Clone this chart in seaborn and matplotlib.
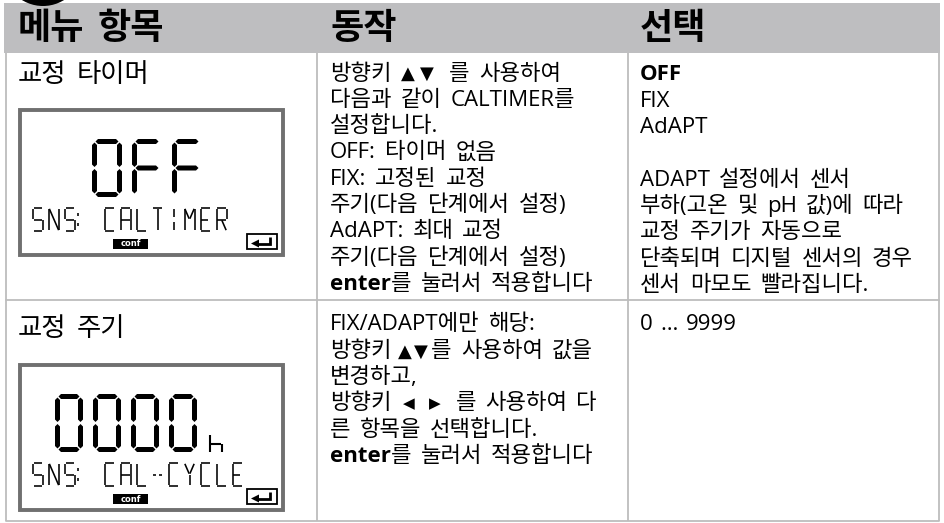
import re
import matplotlib
matplotlib.use("Agg")
import matplotlib.pyplot as plt
import seaborn as sns
from matplotlib.patches import Rectangle, Polygon, Circle

# ---------------- content ----------------
headers = ["메뉴 항목", "동작", "선택"]
menu_items = ["교정 타이머", "교정 주기"]
lcd_main = ["OFF", "0000"]
lcd_unit = ["", "h"]
lcd_sub = ["SNS: CALTIMER", "SNS: CAL-CYCLE"]
actions_row1 = [
    "방향키{9}▲{6}▼{15}를 사용하여",
    "다음과 같이 CALTIMER를",
    "설정합니다.",
    "OFF: 타이머 없음",
    "FIX: 고정된 교정",
    "주기(다음 단계에서 설정)",
    "AdAPT: 최대 교정",
    "주기(다음 단계에서 설정)",
    "**enter**를 눌러서 적용합니다",
]
actions_row2 = [
    "FIX/ADAPT에만 해당:",
    "방향키{6}▲{3}▼{3}를 사용하여 값을",
    "변경하고,",
    "방향키{11}◀{15}▶{15}를 사용하여 다",
    "른 항목을 선택합니다.",
    "**enter**를 눌러서 적용합니다",
]
choices_row1 = [
    "**OFF**",
    "FIX",
    "AdAPT",
    "",
    "ADAPT 설정에서 센서",
    "부하(고온 및 pH 값)에 따라",
    "교정 주기가 자동으로",
    "단축되며 디지털 센서의 경우",
    "센서 마모도 빨라집니다.",
]
choices_row2 = ["0 … 9999"]

# ---------------- style ----------------
sns.set_theme(style="white")
FAM = ["Open Sans", "Noto Sans CJK KR", "DejaVu Sans"]
plt.rcParams["font.family"] = FAM

W, H = 944, 523
fig = plt.figure(figsize=(W / 100, H / 100), dpi=100)
ax = fig.add_axes([0, 0, 1, 1])
ax.set_xlim(0, W)
ax.set_ylim(H, 0)
ax.axis("off")
renderer = fig.canvas.get_renderer()

GRID = "#BDBDBD"
HEAD_BG = "#BEBEC0"

# header band + decorative circle
ax.add_patch(Rectangle((4, 3), 936, 50, fc=HEAD_BG, ec="none", zorder=1))
ax.add_patch(Circle((43, -34), 40, fc="black", ec="none", zorder=2))

col_x = [6, 317, 628, 939]
row_y = [53, 300, 521]
for x in col_x:
    ax.plot([x, x], [row_y[0], row_y[-1]], color=GRID, lw=1.3, zorder=1,
            solid_capstyle="butt")
for y in row_y[1:]:
    ax.plot([col_x[0], col_x[-1]], [y, y], color=GRID, lw=1.3, zorder=1)

# ---------------- rich text lines ----------------
TRI_SIZE = {"▲": 13, "▼": 13, "◀": 11, "▶": 11}
SIZE = 16


def draw_line(x, y, line, size=SIZE, space=9.0, family=FAM, weight="normal"):
    tokens = re.split(r"(\*\*[^*]+\*\*|[▲▼◀▶]|\{\d+\})", line)
    cx = x
    for tok in tokens:
        if not tok:
            continue
        if tok in TRI_SIZE:
            t = ax.text(cx, y, tok, va="center", ha="left", color="black",
                        family=["DejaVu Sans"], fontsize=TRI_SIZE[tok], zorder=3)
            cx += t.get_window_extent(renderer=renderer).width
            continue
        m = re.fullmatch(r"\{(\d+)\}", tok)
        if m:
            cx += float(m.group(1))
            continue
        w = weight
        if tok.startswith("**"):
            tok = tok[2:-2]
            w = "bold"
        words = tok.split(" ")
        for j, word in enumerate(words):
            if j > 0:
                cx += space
            if word:
                t = ax.text(cx, y, word, va="center", ha="left", color="black",
                            family=family, fontsize=size, fontweight=w, zorder=3)
                cx += t.get_window_extent(renderer=renderer).width


text_x = [18, 330, 640]
for x, h in zip(text_x, headers):
    draw_line(x, 29, h, size=26, space=13, family=["Noto Sans CJK KR"], weight="bold")

LINE = 26.3
for i, line in enumerate(actions_row1):
    draw_line(text_x[1], 74 + i * LINE, line)
for i, line in enumerate(choices_row1):
    if line:
        draw_line(text_x[2], 75 + i * LINE, line)
for i, line in enumerate(actions_row2):
    draw_line(text_x[1], 325 + i * LINE, line)
for i, line in enumerate(choices_row2):
    draw_line(text_x[2], 325 + i * LINE, line, space=8)

for name, y in zip(menu_items, [76, 330]):
    draw_line(text_x[0], y, name, size=19, space=10)

# ---------------- LCD drawing ----------------
SEG7 = {"0": "abcdef", "O": "abcdef", "F": "aefg", "8": "abcdefg"}


def seg_digit(x0, y0, w, h, ch, t=5.0):
    g = 1.0
    hor = {"a": y0, "g": y0 + h / 2, "d": y0 + h}
    ver = {"f": (x0, y0, y0 + h / 2), "b": (x0 + w, y0, y0 + h / 2),
           "e": (x0, y0 + h / 2, y0 + h), "c": (x0 + w, y0 + h / 2, y0 + h)}
    for s in SEG7[ch]:
        if s in hor:
            cy = hor[s]
            xa, xb = x0 + g, x0 + w - g
            pts = [(xa, cy), (xa + t / 2, cy - t / 2), (xb - t / 2, cy - t / 2),
                   (xb, cy), (xb - t / 2, cy + t / 2), (xa + t / 2, cy + t / 2)]
        else:
            cx, ya, yb = ver[s]
            ya += g
            yb -= g
            pts = [(cx, ya), (cx + t / 2, ya + t / 2), (cx + t / 2, yb - t / 2),
                   (cx, yb), (cx - t / 2, yb - t / 2), (cx - t / 2, ya + t / 2)]
        ax.add_patch(Polygon(pts, closed=True, fc="black", ec="none", zorder=4))


SMALL = {
    "S": [[(1, 0), (0, 0), (0, 0.5), (1, 0.5), (1, 1), (0, 1)]],
    "N": [[(0, 1), (0, 0), (1, 1), (1, 0)]],
    "C": [[(1, 0), (0, 0), (0, 1), (1, 1)]],
    "A": [[(0, 1), (0, 0), (1, 0), (1, 1)], [(0, 0.5), (1, 0.5)]],
    "L": [[(0, 0), (0, 1), (1, 1)]],
    "T": [[(0, 0), (1, 0)], [(0.5, 0), (0.5, 1)]],
    "I": [[(0.5, 0.0), (0.5, 0.42)], [(0.5, 0.58), (0.5, 1)]],
    "M": [[(0, 1), (0, 0), (0.5, 0.5), (1, 0), (1, 1)]],
    "E": [[(1, 0), (0, 0), (0, 1), (1, 1)], [(0, 0.5), (0.85, 0.5)]],
    "R": [[(0, 1), (0, 0), (1, 0), (1, 0.5), (0, 0.5)], [(0.5, 0.5), (1, 1)]],
    "-": [[(0.0, 0.5), (0.45, 0.5)], [(0.55, 0.5), (1.0, 0.5)]],
    "Y": [[(0, 0), (0.5, 0.5)], [(1, 0), (0.5, 0.5)], [(0.5, 0.5), (0.5, 1)]],
    "h": [[(0, 0), (0, 1)], [(0, 0.5), (1, 0.5), (1, 1)]],
}


def small_char(x0, y0, w, h, ch, lw=1.15):
    if ch == ":":
        for yy in (0.3, 0.72):
            ax.plot([x0 + w * 0.5, x0 + w * 0.5], [y0 + h * yy - 1.5, y0 + h * yy + 1.5],
                    color="black", lw=lw, zorder=4, solid_capstyle="butt")
        return
    for poly in SMALL.get(ch, []):
        for (ax0, ay0), (ax1, ay1) in zip(poly[:-1], poly[1:]):
            X0, Y0 = x0 + ax0 * w, y0 + ay0 * h
            X1, Y1 = x0 + ax1 * w, y0 + ay1 * h
            dx, dy = X1 - X0, Y1 - Y0
            L = (dx * dx + dy * dy) ** 0.5
            sh = min(0.9, L * 0.2)
            ux, uy = dx / L, dy / L
            ax.plot([X0 + ux * sh, X1 - ux * sh], [Y0 + uy * sh, Y1 - uy * sh],
                    color="black", lw=lw, zorder=4, solid_capstyle="butt")


def lcd(dy, main, unit, sub):
    ax.add_patch(Rectangle((19.5, 109.5 + dy), 263, 145, fc="white",
                           ec="#707070", lw=2.8, zorder=3))
    n = len(main)
    x_start = 94.5 if n == 3 else 57.5
    pitch = 40.0 if n == 3 else 38.0
    for i, ch in enumerate(main):
        seg_digit(x_start + i * pitch, 141.5 + dy, 25 if n == 3 else 23, 53, ch)
    if unit:
        small_char(210, 434 - 255 + dy, 12, 19, unit, lw=1.5)
    x = 33.0
    for ch in sub:
        if ch == ":":
            x -= 8.5
        if ch != " ":
            small_char(x, 208 + dy, 10, 23, ch)
        x += 16.0
    # conf badge
    ax.add_patch(Rectangle((113, 239 + dy), 35, 10, fc="black", ec="none", zorder=4))
    ax.text(130.5, 244 + dy, "conf", color="white", fontsize=6, fontweight="bold",
            family=["DejaVu Sans"], ha="center", va="center", zorder=5)
    # enter key
    ax.add_patch(Rectangle((247, 234 + dy), 30, 15, fc="white", ec="black",
                           lw=1.3, zorder=4))
    ax.plot([270, 270, 258], [237 + dy, 243.5 + dy, 243.5 + dy], color="black",
            lw=2.0, zorder=5, solid_capstyle="butt", solid_joinstyle="miter")
    ax.add_patch(Polygon([(251, 243.5 + dy), (259, 239.5 + dy), (259, 247.5 + dy)],
                         closed=True, fc="black", ec="none", zorder=5))


lcd(0, lcd_main[0], lcd_unit[0], lcd_sub[0])
lcd(255, lcd_main[1], lcd_unit[1], lcd_sub[1])

fig.savefig("out.png", dpi=100, facecolor="white")
